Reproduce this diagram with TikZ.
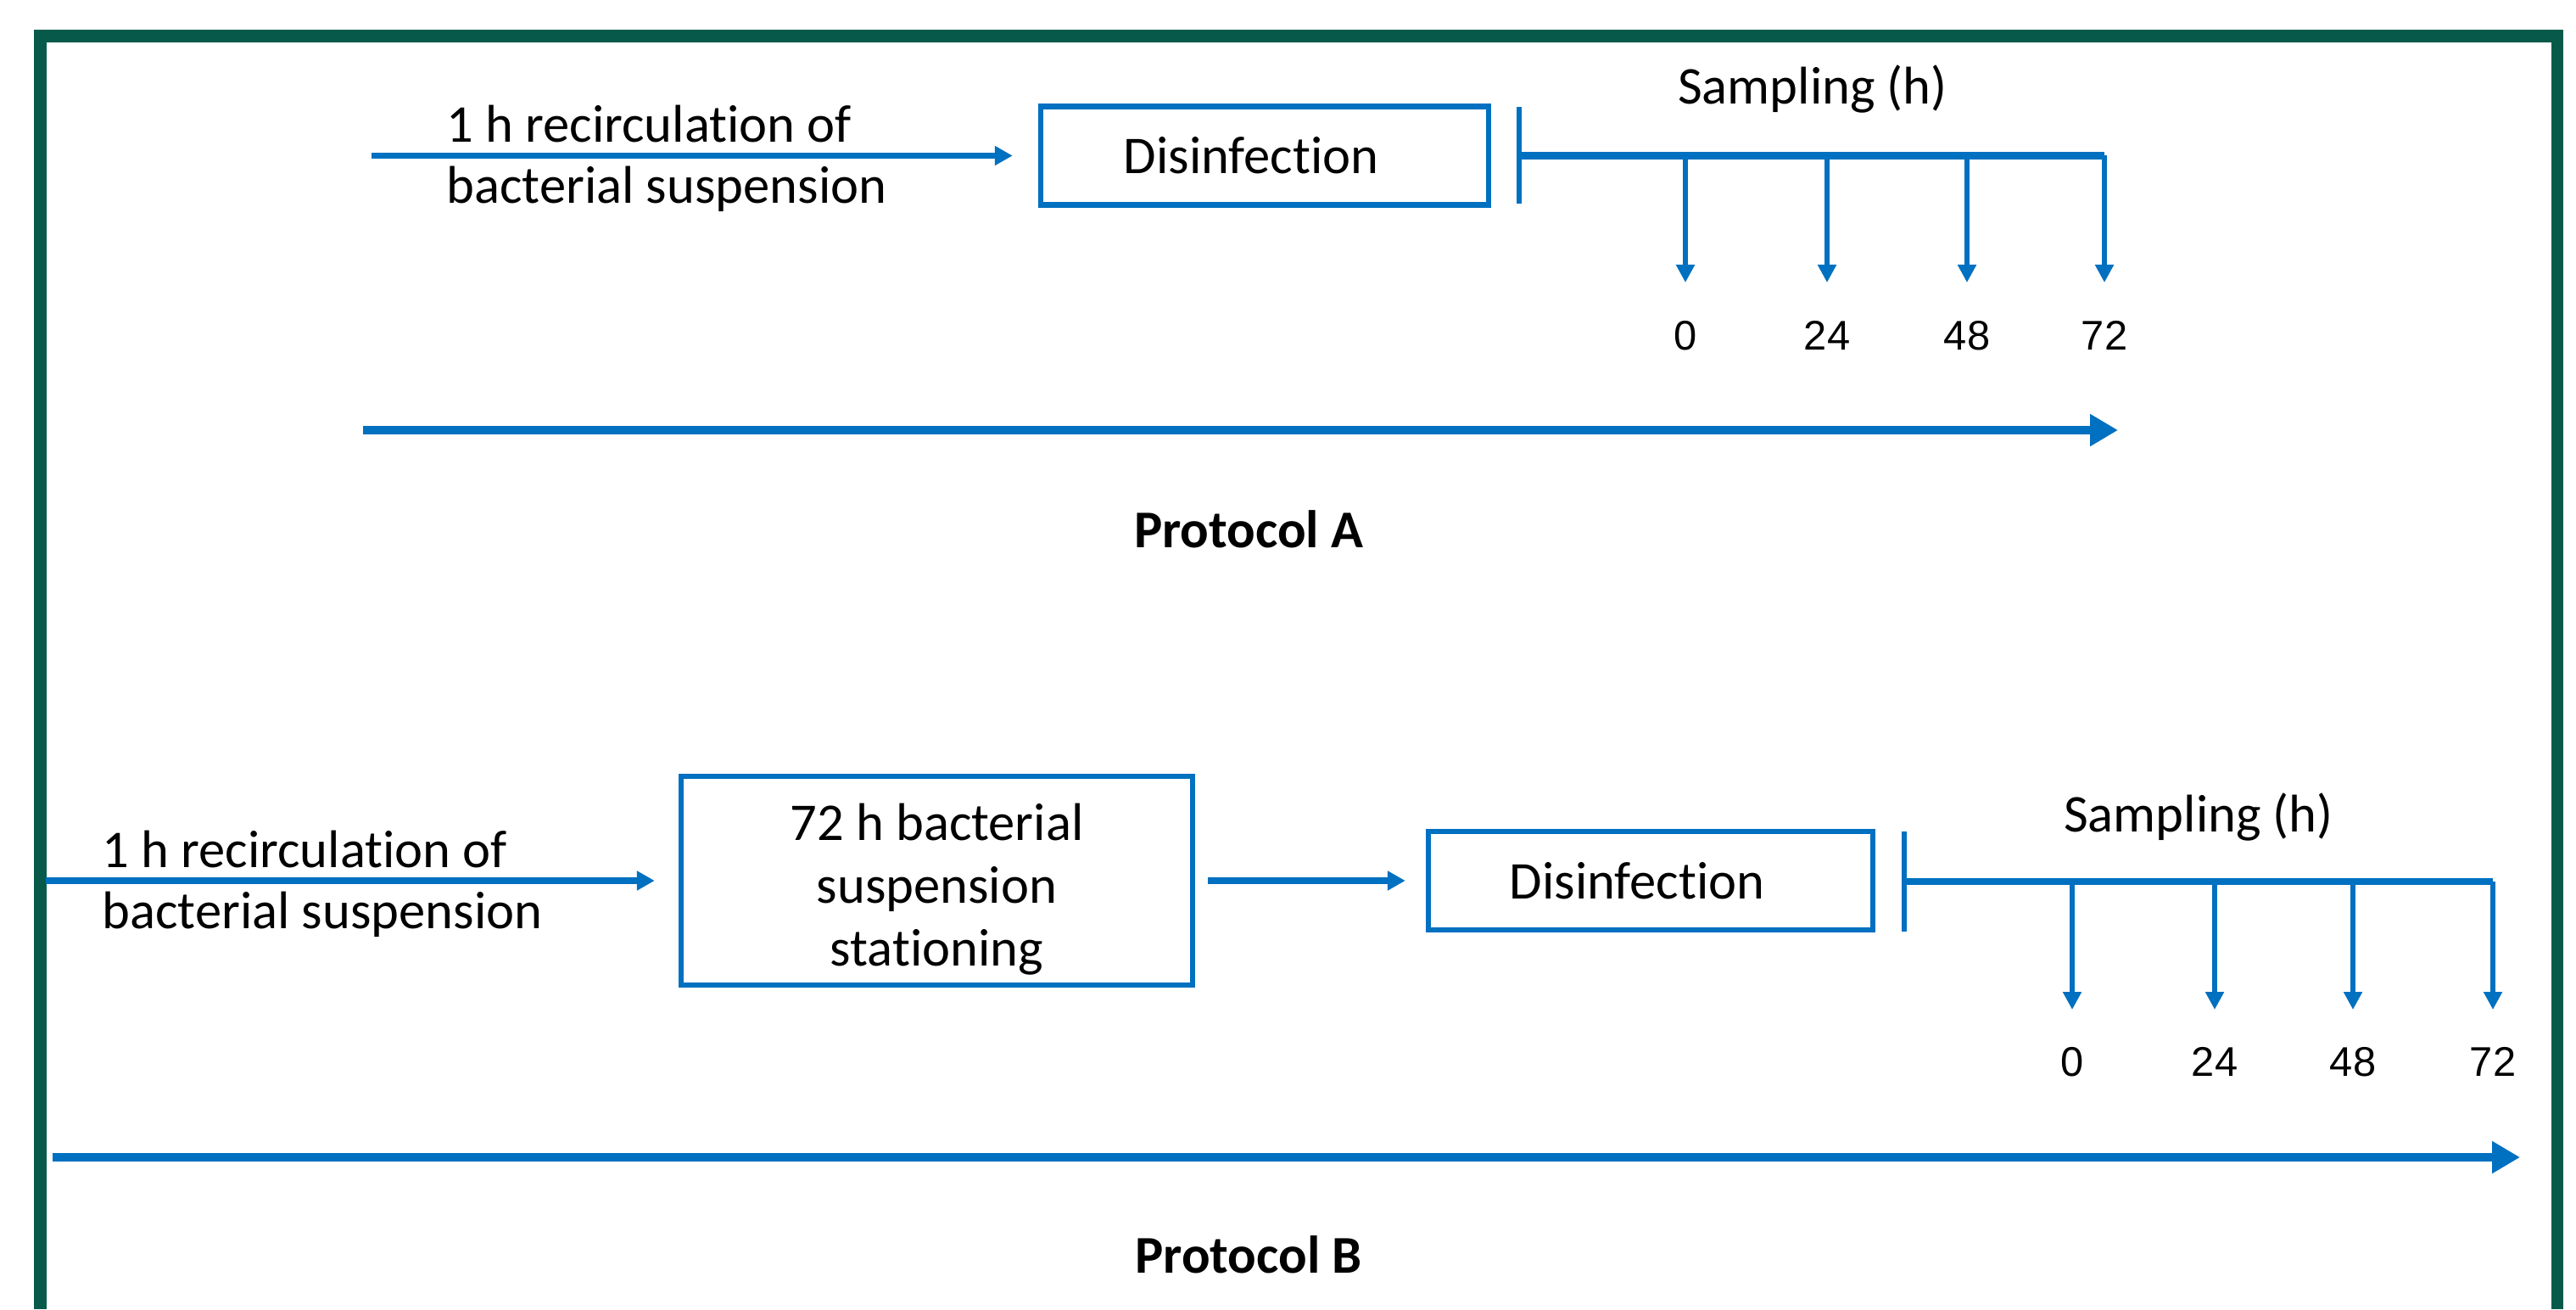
\documentclass[tikz,border=0pt]{standalone}
\usepackage{fontspec}
\setmainfont{Carlito}[Ligatures=CommonOff]
\newfontfamily\numfont{Liberation Sans}
\usetikzlibrary{positioning, arrows.meta}
\definecolor{protblue}{HTML}{0070C0}
\definecolor{framegreen}{HTML}{075A4A}

\begin{document}
\begin{tikzpicture}[
    txt/.style={font=\fontsize{17.8}{20.4}\selectfont, inner sep=0pt},
    stepbox/.style={draw=protblue, line width=1.85pt, font=\fontsize{17.8}{21}\selectfont,
                    minimum height=1.16cm, inner sep=0pt},
    flow/.style={draw=protblue, line width=2.1pt, -{Triangle[length=0.21cm,width=0.22cm]}},
    sample/.style={draw=protblue, line width=1.7pt, -{Triangle[length=0.21cm,width=0.21cm]}},
    timeline/.style={draw=protblue, line width=2.3pt},
    stopbar/.style={draw=protblue, line width=1.6pt},
    bigarrow/.style={draw=protblue, line width=2.85pt, -{Triangle[length=0.33cm,width=0.36cm]}},
    hour/.style={font=\numfont\fontsize{13.9}{16}\selectfont, inner sep=0pt},
    title/.style={font=\fontsize{17.8}{20.4}\selectfont\bfseries, inner sep=0pt}
  ]
  \useasboundingbox (0,0) rectangle (30.37,15.43);
  % frame
  \draw[framegreen, line width=4pt] (0.475,0) -- (0.475,15.005) -- (30.145,15.005) -- (30.145,0);

  % Protocol A
  \coordinate (recA) at (4.38,13.595);
  \node[stepbox, minimum width=5.28cm] (disA) at (14.91,13.595) {Disinfection\hspace*{0.32cm}};
  \node[txt, align=left, anchor=west] (recAtxt) at (5.26,13.56) {1 h recirculation of\\bacterial suspension};
  \draw[flow, shorten >=0.3cm] (recA) -- (disA);
  \coordinate (barA) at (17.91,13.595);
  \coordinate (endA) at (24.81,13.595);
  \draw[stopbar] ([yshift=0.57cm]barA) -- ([yshift=-0.57cm]barA);
  \draw[timeline] (barA) -- (endA);
  \node[txt, anchor=base] (sampA) at (21.37,14.20) {Sampling (h)};
  \coordinate (sA0) at (19.87,13.595);
  \coordinate (sA24) at (21.54,13.595);
  \coordinate (sA48) at (23.19,13.595);
  \coordinate (tA0) at (19.87,12.10);
  \coordinate (tA24) at (21.54,12.10);
  \coordinate (tA48) at (23.19,12.10);
  \coordinate (tA72) at (24.81,12.10);
  \draw[sample] (sA0) -- (tA0);
  \draw[sample] (sA24) -- (tA24);
  \draw[sample] (sA48) -- (tA48);
  \draw[sample] (endA) -- (tA72);
  \node[hour, below=0.445cm of tA0] (hA0) {0};
  \node[hour, below=0.445cm of tA24] (hA24) {24};
  \node[hour, below=0.445cm of tA48] (hA48) {48};
  \node[hour, below=0.445cm of tA72] (hA72) {72};
  \coordinate (axA0) at (4.28,10.36);
  \coordinate (axA1) at (24.97,10.36);
  \draw[bigarrow] (axA0) -- (axA1);
  \node[title, anchor=base] (protA) at (14.72,8.98) {Protocol A};

  % Protocol B
  \coordinate (recB) at (0.54,5.05);
  \node[stepbox, minimum width=6.03cm, minimum height=2.46cm, align=center] (statB) at (11.045,5.05)
       {\\[-0.1cm]72 h bacterial\\suspension\\stationing};
  \node[txt, align=left, anchor=west] (recBtxt) at (1.20,5.01) {1 h recirculation of\\bacterial suspension};
  \draw[flow, shorten >=0.28cm] (recB) -- (statB);
  \node[stepbox, minimum width=5.24cm] (disB) at (19.46,5.05) {Disinfection\hspace*{0.32cm}};
  \draw[flow, shorten <=0.15cm, shorten >=0.24cm] (statB) -- (disB);
  \coordinate (barB) at (22.45,5.04);
  \coordinate (endB) at (29.39,5.04);
  \draw[stopbar] ([yshift=0.59cm]barB) -- ([yshift=-0.59cm]barB);
  \draw[timeline] (barB) -- (endB);
  \node[txt, anchor=base] (sampB) at (25.92,5.63) {Sampling (h)};
  \coordinate (sB0) at (24.43,5.04);
  \coordinate (sB24) at (26.11,5.04);
  \coordinate (sB48) at (27.74,5.04);
  \coordinate (tB0) at (24.43,3.53);
  \coordinate (tB24) at (26.11,3.53);
  \coordinate (tB48) at (27.74,3.53);
  \coordinate (tB72) at (29.39,3.53);
  \draw[sample] (sB0) -- (tB0);
  \draw[sample] (sB24) -- (tB24);
  \draw[sample] (sB48) -- (tB48);
  \draw[sample] (endB) -- (tB72);
  \node[hour, below=0.435cm of tB0] (hB0) {0};
  \node[hour, below=0.435cm of tB24] (hB24) {24};
  \node[hour, below=0.435cm of tB48] (hB48) {48};
  \node[hour, below=0.435cm of tB72] (hB72) {72};
  \coordinate (axB0) at (0.62,1.79);
  \coordinate (axB1) at (29.71,1.79);
  \draw[bigarrow] (axB0) -- (axB1);
  \node[title, anchor=base] (protB) at (14.72,0.43) {Protocol B};
\end{tikzpicture}
\end{document}
